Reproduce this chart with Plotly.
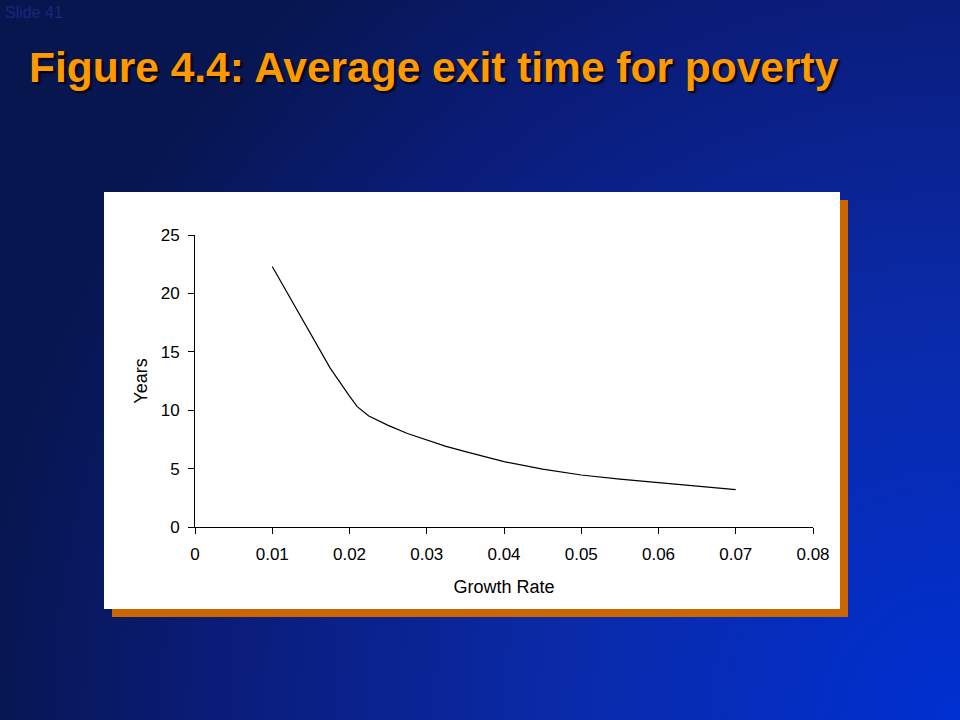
import base64
import plotly.graph_objects as go

# Data
growth_rate = [0.010, 0.0125, 0.015, 0.0175, 0.020, 0.021, 0.0225, 0.025, 0.0275,
               0.030, 0.0325, 0.035, 0.0375, 0.040, 0.045, 0.050, 0.055, 0.060,
               0.065, 0.070]
years = [22.3, 19.4, 16.4, 13.6, 11.2, 10.3, 9.5, 8.7, 8.0,
         7.45, 6.9, 6.45, 6.0, 5.6, 4.95, 4.45, 4.1, 3.8,
         3.5, 3.2]
x_ticks = [0, 0.01, 0.02, 0.03, 0.04, 0.05, 0.06, 0.07, 0.08]
x_tick_text = ["0", "0.01", "0.02", "0.03", "0.04", "0.05", "0.06", "0.07", "0.08"]
y_ticks = [0, 5, 10, 15, 20, 25]

W, H = 960, 720

svg = f"""<svg xmlns='http://www.w3.org/2000/svg' width='{W}' height='{H}' preserveAspectRatio='none'>
<defs><radialGradient id='g' cx='{W}' cy='{H}' r='1150' gradientUnits='userSpaceOnUse'>
<stop offset='0' stop-color='#0030d2'/>
<stop offset='0.35' stop-color='#0a2aa8'/>
<stop offset='0.65' stop-color='#0a1c78'/>
<stop offset='0.85' stop-color='#071650'/>
<stop offset='1' stop-color='#081650'/>
</radialGradient></defs>
<rect width='{W}' height='{H}' fill='url(#g)'/></svg>"""
bg_uri = "data:image/svg+xml;base64," + base64.b64encode(svg.encode()).decode()

def px(x):
    return x / W

def py(y):
    return 1 - y / H

fig = go.Figure()
fig.add_trace(go.Scatter(x=growth_rate, y=years, mode="lines",
                         line=dict(color="black", width=1.2), showlegend=False,
                         hoverinfo="skip"))

tick_font = dict(family="Liberation Sans, Arial, sans-serif", size=17, color="black")
title_font = dict(family="Liberation Sans, Arial, sans-serif", size=18, color="black")

fig.update_layout(
    template="none",
    width=W, height=H, autosize=False,
    margin=dict(l=0, r=0, t=0, b=0, pad=0, autoexpand=False),
    paper_bgcolor="#081650",
    plot_bgcolor="rgba(0,0,0,0)",
    xaxis=dict(domain=[px(195), px(813)], range=[0, 0.08], tickvals=x_ticks,
               ticktext=x_tick_text, showgrid=False, zeroline=False,
               showline=True, linecolor="black", linewidth=1, automargin=False,
               ticks="outside", ticklen=6, tickcolor="black", tickfont=tick_font,
               ticklabelstandoff=6,
               title=dict(text="Growth Rate", font=title_font, standoff=16)),
    yaxis=dict(domain=[py(527), py(235)], range=[0, 25], tickvals=y_ticks,
               showgrid=False, zeroline=False, showline=True, linecolor="black",
               linewidth=1, ticks="outside", ticklen=6, tickcolor="black",
               tickfont=tick_font, automargin=False, ticklabelstandoff=5,
               title=dict(text="Years", font=title_font, standoff=8)),
    images=[dict(source=bg_uri, xref="paper", yref="paper", x=0, y=1,
                 sizex=1, sizey=1, sizing="stretch", xanchor="left",
                 yanchor="top", layer="below")],
    shapes=[
        dict(type="rect", xref="paper", yref="paper", x0=px(112), x1=px(848),
             y0=py(617), y1=py(200), fillcolor="#cc6600", line=dict(width=0),
             layer="below"),
        dict(type="rect", xref="paper", yref="paper", x0=px(104), x1=px(840),
             y0=py(609), y1=py(192), fillcolor="white", line=dict(width=0),
             layer="below"),
    ],
    annotations=[
        dict(text="<b>Figure 4.4: Average exit time for poverty</b>",
             xref="paper", yref="paper", x=px(27), y=py(67), xanchor="left",
             yanchor="middle", showarrow=False,
             font=dict(family="Liberation Sans, Arial, sans-serif", size=42.5,
                       color="#ff9900", shadow="2px 2px 2px #000000")),
        dict(text="Slide 41", xref="paper", yref="paper", x=px(3), y=py(12),
             xanchor="left", yanchor="middle", showarrow=False,
             font=dict(family="Liberation Sans, Arial, sans-serif", size=16,
                       color="#18287a")),
    ],
)

post = """
document.documentElement.style.margin='0';
document.body.style.margin='0';
document.body.style.overflow='hidden';
document.body.style.background='#081650';
"""

fig.write_html("out.html", config={"displayModeBar": False},
               post_script=post)
